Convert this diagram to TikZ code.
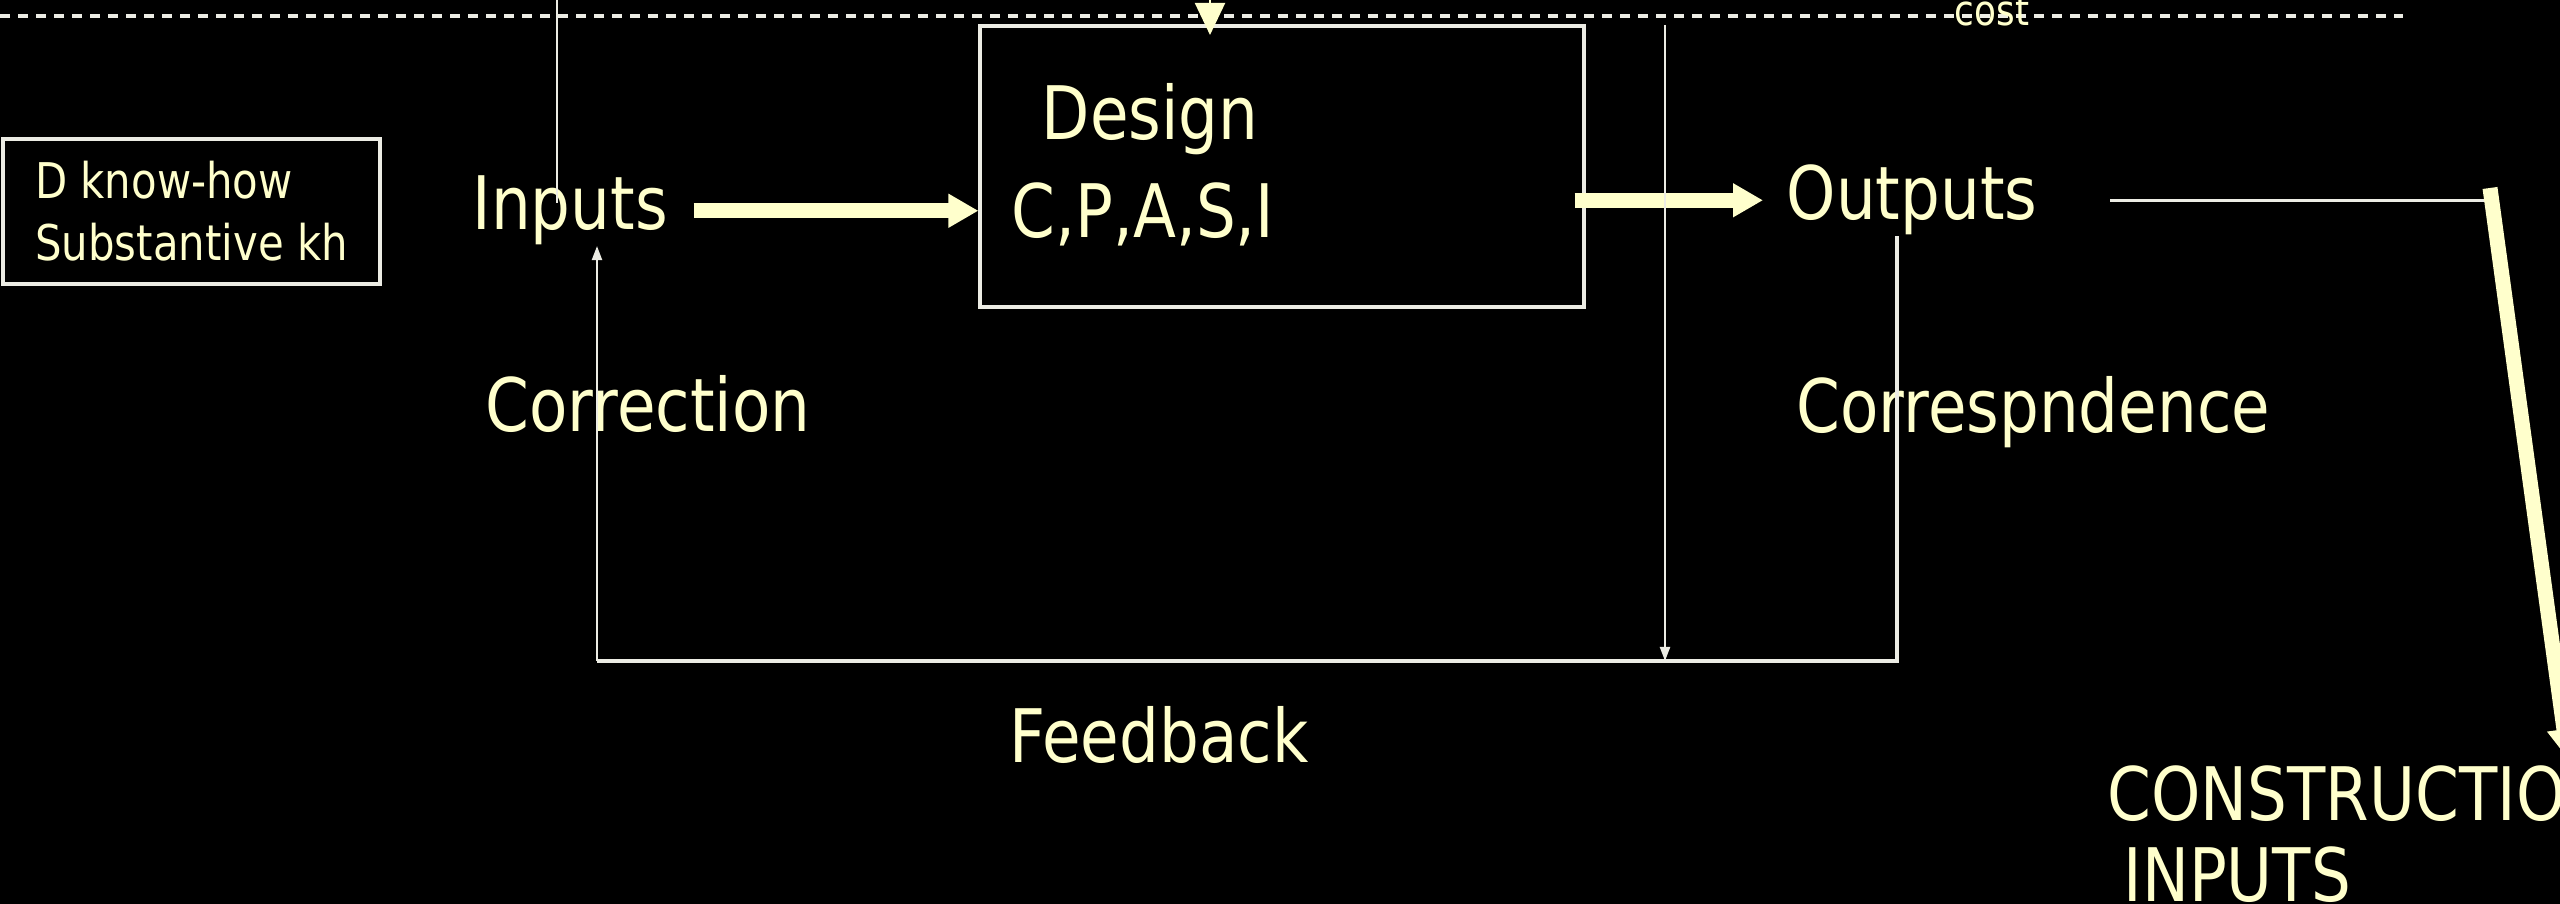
\documentclass[tikz,border=0pt]{standalone}
\usepackage{fontspec}
\setmainfont{DejaVu Sans}[FakeStretch=0.85]
\usetikzlibrary{arrows.meta}
\definecolor{cream}{RGB}{255,255,204}
\definecolor{linegray}{RGB}{236,236,228}
\newcommand{\bigfont}{\fontsize{21}{23}\selectfont}
\newcommand{\smallfont}{\fontsize{14}{17.6}\selectfont}

\begin{document}
\begin{tikzpicture}[
    lbl/.style={text=cream, inner sep=0pt, font=\bigfont},
    wirestyle/.style={draw=linegray, line width=0.6pt},
    framestyle/.style={draw=linegray, line width=0.9pt},
    fatarrow/.style={draw=cream, line width=0.15cm, -{Triangle[length=0.3cm,width=0.32cm]}},
    thinarrow/.style={wirestyle, -{Triangle[length=0.14cm,width=0.1cm]}},
    costarrow/.style={draw=cream, line width=0.6pt, fill=cream, -{Triangle[length=0.32cm,width=0.3cm]}}
  ]
  \useasboundingbox (0,0) rectangle (25.6,9.04);
  \fill[black] (0,0) rectangle (25.6,9.04);

  % cost line
  \coordinate (cl) at (0,8.88);
  \coordinate (cr) at (24.03,8.88);
  \draw[linegray, line width=0.9pt, dash pattern=on 0.1cm off 0.08cm] (cl) -- (cr);
  \node[lbl, font=\fontsize{12}{14}\selectfont, anchor=base] (cost) at (19.92,8.78) {cost};

  % boxes
  \node[framestyle, text=cream, font=\smallfont, align=left,
        minimum width=3.77cm, minimum height=1.45cm] (knowhow) at (1.915,6.925)
        {D know-how\\Substantive kh};
  \node[framestyle, minimum width=6.04cm, minimum height=2.81cm, inner sep=0pt] (design) at (12.82,7.375) {};
  \node[lbl, anchor=base] (dname) at (11.50,7.64) {Design};
  \node[lbl, anchor=base] (dlist) at (11.43,6.66) {C,P,A,S,I};

  % labels
  \node[lbl, anchor=base west] (inputs)  at (4.72,6.74)  {Inputs};
  \node[lbl, anchor=base west] (outputs) at (17.86,6.84) {Outputs};
  \node[lbl, anchor=base west] (correction) at (4.85,4.72) {Correction};
  \node[lbl, anchor=base west] (corresp) at (17.96,4.71) {Correspndence};
  \node[lbl, anchor=base west] (feedback) at (10.09,1.41) {Feedback};
  \node[lbl, anchor=base west] (constr) at (21.07,0.83) {CONSTRUCTION};
  \node[lbl, anchor=base west] (cinputs) at (21.23,0.02) {INPUTS};

  \coordinate (ktop) at (5.57,9.04);
  \coordinate (ctop) at (12.10,9.10);
  \coordinate (cbot) at (12.10,8.69);
  \coordinate (vtop) at (16.65,8.79);
  \coordinate (fbl) at (5.97,2.43);
  \coordinate (fbr) at (18.97,2.43);
  \coordinate (bend) at (24.90,7.16);
  \coordinate (ctip) at (25.68,1.45);

  % main flow
  \draw[fatarrow] ([xshift=0.25cm]inputs.east) -- (design.west |- inputs.east);
  \draw[fatarrow] ([xshift=-0.11cm]design.east |- outputs.west) -- ([xshift=-0.23cm]outputs.west);
  \draw[framestyle] ([xshift=0.72cm]outputs.east) -- (outputs.east -| bend);
  \draw[fatarrow] (bend) -- (ctip);

  \draw[costarrow] (ctop) -- (cbot);
  \draw[wirestyle] (ktop) -- ([yshift=-0.28cm]ktop |- inputs.north);

  % feedback loop
  \draw[thinarrow] (vtop) -- (vtop |- fbl);
  \draw[framestyle] (outputs.south -| fbr) -- (fbr) -- (fbl);
  \draw[thinarrow] (fbl) -- (fbl |- inputs.south);
\end{tikzpicture}
\end{document}
